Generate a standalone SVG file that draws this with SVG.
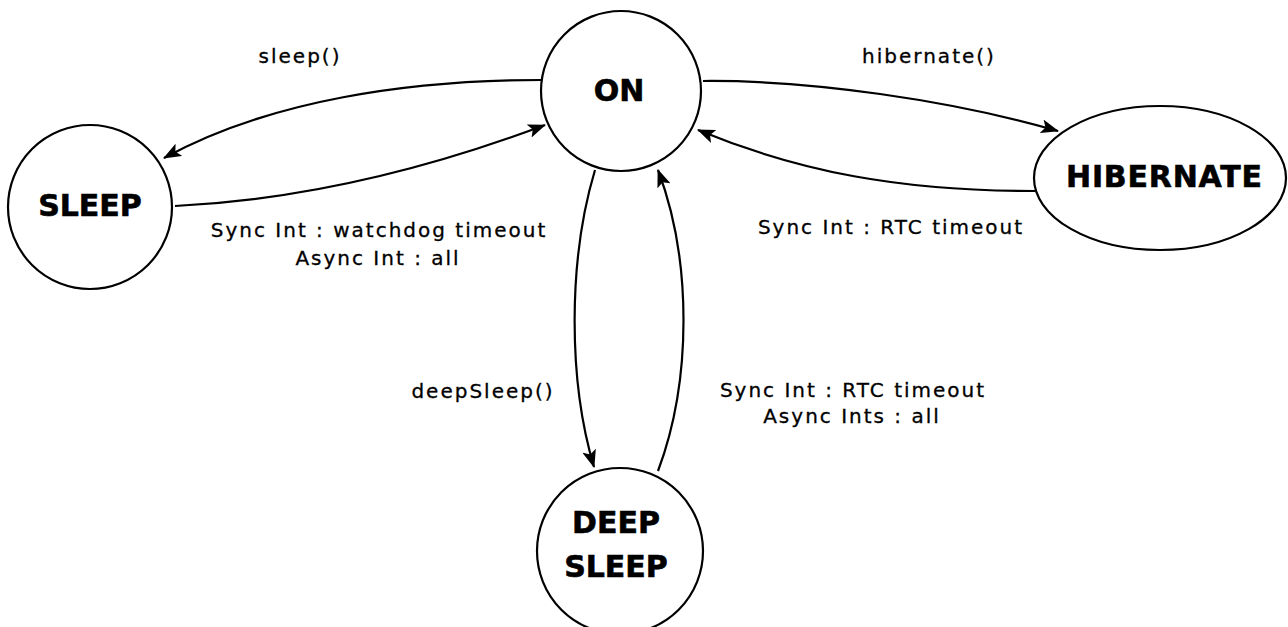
<svg xmlns="http://www.w3.org/2000/svg" width="1288" height="627" viewBox="0 0 1288 627">
  <style>
    .state { fill: #ffffff; stroke: #000000; stroke-width: 2.2; }
    .name { font-family: "DejaVu Sans", "Liberation Sans", sans-serif; font-weight: bold; font-size: 30px; text-anchor: middle; fill: #000000; stroke: #000000; stroke-width: 0.6; }
    .edge { fill: none; stroke: #000000; stroke-width: 2.2; marker-end: url(#head); }
    .label { font-family: "DejaVu Sans", "Liberation Sans", sans-serif; font-size: 20px; letter-spacing: 2px; text-anchor: middle; fill: #000000; stroke: #000000; stroke-width: 0.3; }
  </style>
  <defs>
    <marker id="head" viewBox="0 0 18 14" refX="17" refY="7" markerWidth="18" markerHeight="14" markerUnits="userSpaceOnUse" orient="auto">
      <path d="M0,0 L18,7 L0,14 L4,7 z" fill="#000000"/>
    </marker>
  </defs>
  <rect width="1288" height="627" fill="#ffffff"/>

  <!-- transitions -->
  <g id="connectors">
    <path class="edge" d="M 541 80 C 410 80 270 100 164 158"/>
    <path class="edge" d="M 175 206 C 300 200 420 172 545 125"/>
    <path class="edge" d="M 703 81 C 810 80 950 100 1058 131"/>
    <path class="edge" d="M 1035 191 C 900 191 800 172 698 130"/>
    <path class="edge" d="M 595 170 C 568 260 568 380 594 467"/>
    <path class="edge" d="M 658 471 C 692 380 692 260 658 170"/>
    <text class="label" x="300" y="63">sleep()</text>
    <text class="label" x="379" y="237">Sync Int : watchdog timeout</text>
    <text class="label" x="378" y="265">Async Int : all</text>
    <text class="label" x="929" y="63">hibernate()</text>
    <text class="label" x="891" y="234">Sync Int : RTC timeout</text>
    <text class="label" x="483" y="398">deepSleep()</text>
    <text class="label" x="853" y="397">Sync Int : RTC timeout</text>
    <text class="label" x="852" y="423">Async Ints : all</text>
  </g>

  <g id="on">
    <circle class="state" cx="621" cy="91" r="80"/>
    <text class="name" x="619" y="101">ON</text>
  </g>
  <g id="sleep">
    <circle class="state" cx="90" cy="207" r="82"/>
    <text class="name" x="90" y="216">SLEEP</text>
  </g>
  <g id="hibernate">
    <ellipse class="state" cx="1160" cy="178" rx="126" ry="72"/>
    <text class="name" x="1164" y="187" textLength="196">HIBERNATE</text>
  </g>
  <g id="deep-sleep">
    <circle class="state" cx="620" cy="551" r="83"/>
    <text class="name" x="616" y="533">DEEP</text>
    <text class="name" x="616" y="577">SLEEP</text>
  </g>
</svg>
